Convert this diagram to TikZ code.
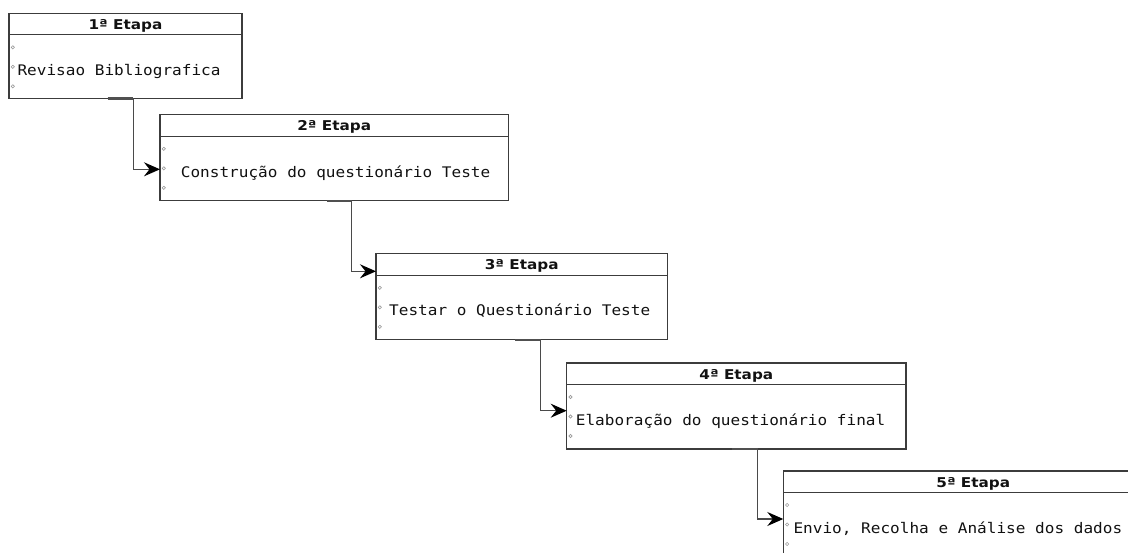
\documentclass[tikz,border=0pt]{standalone}
\usepackage{fontspec}
\newfontfamily\etapafont{DejaVu Sans}[FakeStretch=1.13]
\newfontfamily\monofont{DejaVu Sans Mono}[FakeStretch=1.1]
\usetikzlibrary{calc,arrows.meta}
\definecolor{boxline}{HTML}{3C3C3C}
\definecolor{connline}{HTML}{4A4A4A}
\definecolor{stubline}{HTML}{505050}
\definecolor{dotline}{HTML}{9A9A9A}
\definecolor{inkc}{HTML}{111111}

\begin{document}
\begin{tikzpicture}[x=1pt,y=-1pt,
  etapa/.style={draw=boxline, line width=1.2pt, rectangle, anchor=north west,
    inner sep=0pt, outer sep=0pt, minimum height=86pt},
  sepline/.style={draw=boxline, line width=1.2pt},
  title/.style={anchor=base, inner sep=0pt, text=inkc,
    font=\etapafont\bfseries\fontsize{13.5}{15}\selectfont},
  body/.style={anchor=base west, inner sep=0pt, text=inkc,
    font=\monofont\fontsize{14.6}{16}\selectfont},
  dot/.style={draw=dotline, line width=0.6pt},
  conn/.style={draw=connline, line width=1.5pt,
    -{Stealth[length=16pt,width=14pt,inset=5.5pt,color=black]}},
  stub/.style={draw=stubline, line width=2.6pt}
]
\useasboundingbox (0,0) rectangle (1128,552);
\clip (0,0) rectangle (1128,552);

% the five stage boxes
\node[etapa, minimum width=233pt, minimum height=85pt] (b1) at (9,13.3) {};
\node[etapa, minimum width=348.5pt] (b2) at (160,114.8) {};
\node[etapa, minimum width=291.5pt] (b3) at (376,253.8) {};
\node[etapa, minimum width=339.3pt] (b4) at (566.7,363) {};
\node[etapa, minimum width=380pt] (b5) at (783.3,471) {};

% header separators and bullets
\foreach \b in {b1,b2,b3,b4,b5}{
  \draw[sepline] ($(\b.north west)+(0,21.5)$) -- ($(\b.north east)+(0,21.5)$);
  \foreach \dy in {34,53.5,73}
    \draw[dot] ($(\b.north west)+(3.8,\dy)$) circle (1.6);
}

% titles
\node[title] (t1) at ($(b1.north)+(0,16)$) {1ª Etapa};
\node[title] (t2) at ($(b2.north)+(0,16)$) {2ª Etapa};
\node[title] (t3) at ($(b3.north)+(0,16)$) {3ª Etapa};
\node[title] (t4) at ($(b4.north)+(0,16)$) {4ª Etapa};
\node[title] (t5) at ($(b5.north)+(0,16)$) {5ª Etapa};

% body texts
\node[body] (x1) at ($(b1.north west)+(8.3,62)$) {Revisao Bibliografica};
\node[body] (x2) at ($(b2.north west)+(20.7,63)$) {Construção do questionário Teste};
\node[body] (x3) at ($(b3.north west)+(13,62)$) {Testar o Questionário Teste};
\node[body] (x4) at ($(b4.north west)+(9,62)$) {Elaboração do questionário final};
\node[body] (x5) at ($(b5.north west)+(10,62)$) {Envio, Recolha e Análise dos dados};

% short heavy marks where each connector leaves a box
\draw[stub] ($(b1.south west)+(98.5,0)$) -- ($(b1.south west)+(124.3,0)$);
\draw[stub] ($(b2.south west)+(166.7,0)$) -- ($(b2.south west)+(191.7,0)$);
\draw[stub] ($(b3.south west)+(139,0)$) -- ($(b3.south west)+(164.5,0)$);
\draw[stub] ($(b4.south west)+(165,0)$) -- ($(b4.south west)+(191,0)$);

% connectors between consecutive stages
\draw[conn] ($(b1.south west)+(124.3,0)$) |- ($(b2.north west)+(0,54.5)$);
\draw[conn] ($(b2.south west)+(191.7,0)$) |- ($(b3.north west)+(0,17.5)$);
\draw[conn] ($(b3.south west)+(164.5,0)$) |- ($(b4.north west)+(0,47.7)$);
\draw[conn] ($(b4.south west)+(191,0)$) |- ($(b5.north west)+(0,48)$);
\end{tikzpicture}
\end{document}
